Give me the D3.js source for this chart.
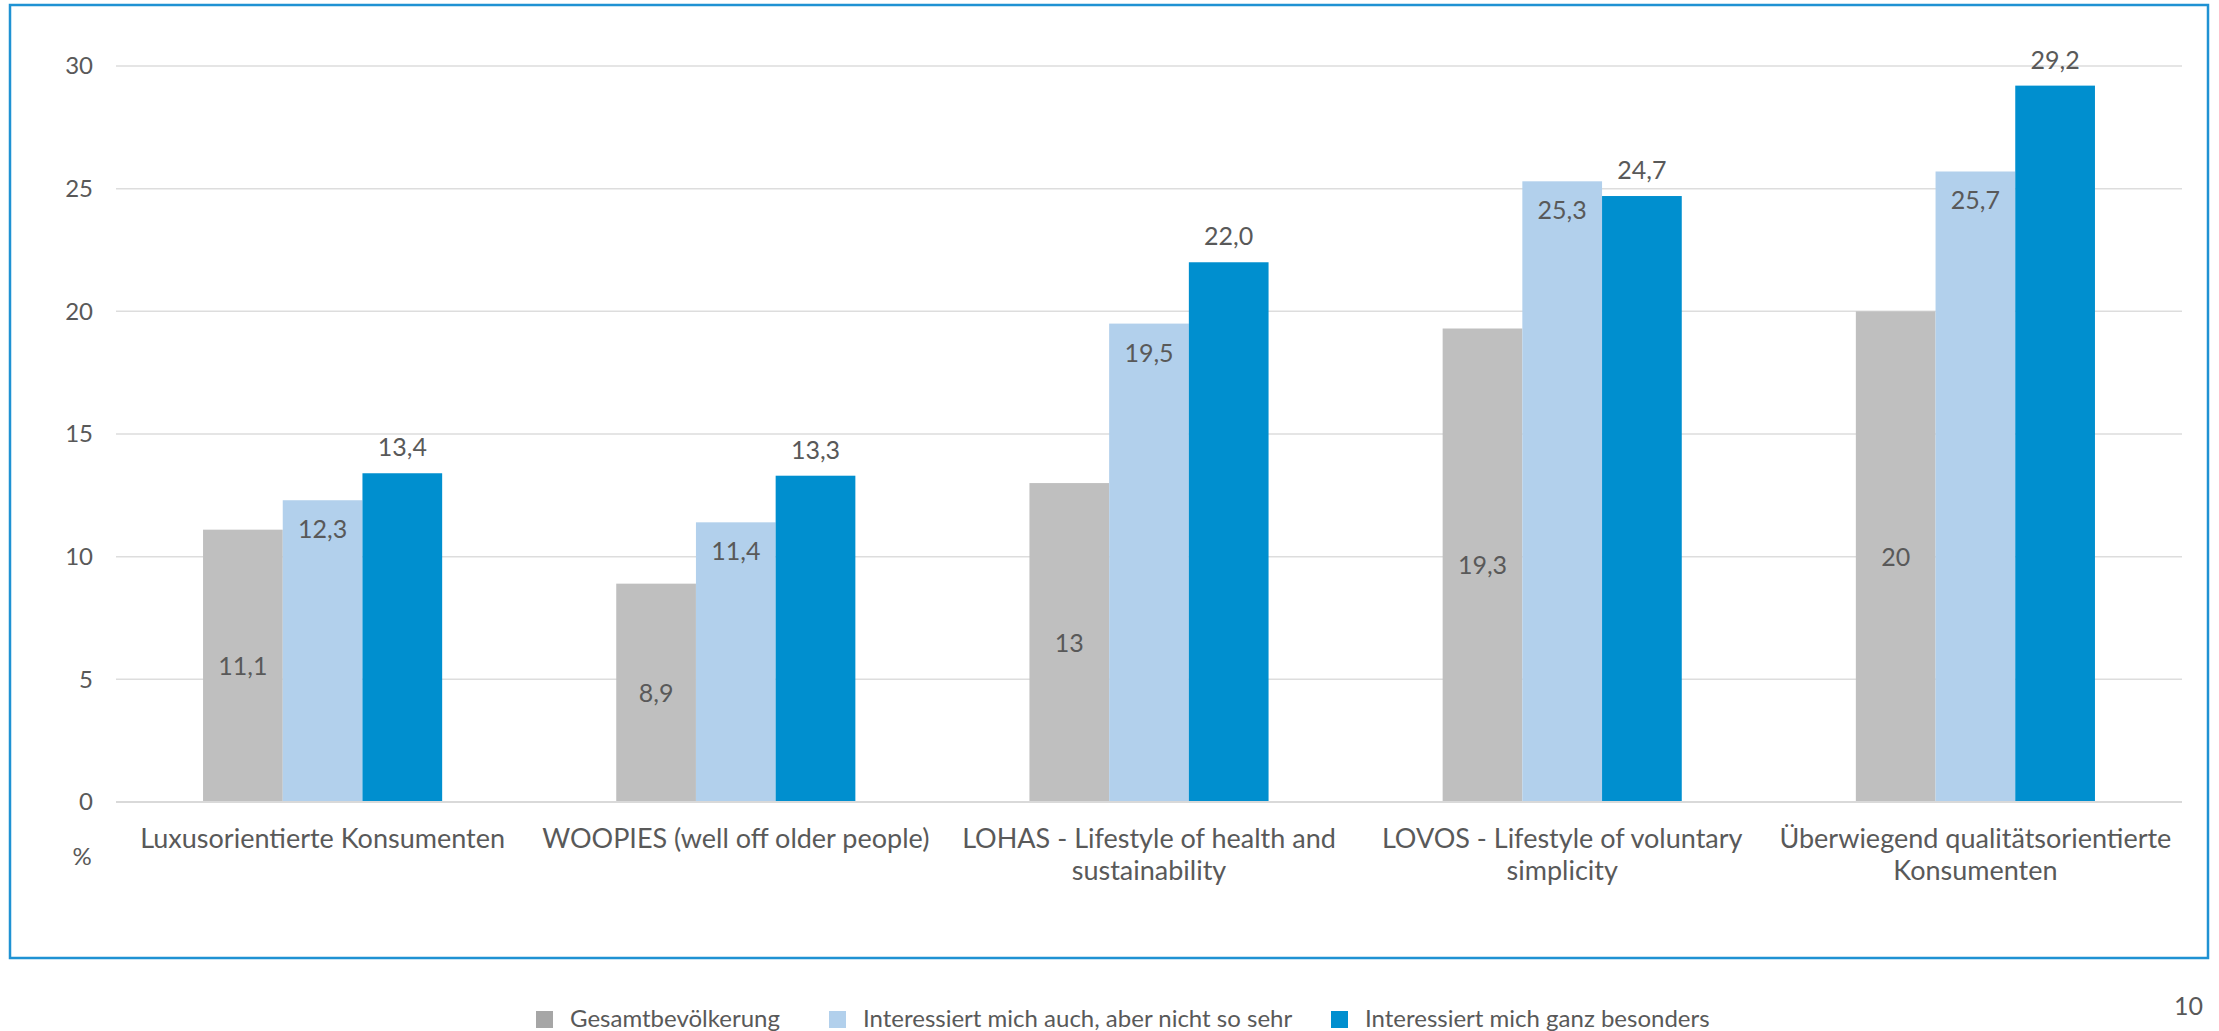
<!DOCTYPE html>
<html>
<head>
<meta charset="utf-8">
<script src="https://cdn.jsdelivr.net/npm/d3@7"></script>
<style>
  html, body { margin: 0; padding: 0; background: #fff; }
  svg { display: block; font-family: Lato, "Open Sans", sans-serif; }
</style>
</head>
<body>
<svg id="chart" width="2219" height="1031"></svg>
<script>
// Consumer segments (x categories), each wrapped into display lines
const categories = [
  "Luxusorientierte Konsumenten",
  "WOOPIES (well off older people)",
  "LOHAS - Lifestyle of health and sustainability",
  "LOVOS - Lifestyle of voluntary simplicity",
  "Überwiegend qualitätsorientierte Konsumenten"
];
const categoryLines = [
  ["Luxusorientierte Konsumenten"],
  ["WOOPIES (well off older people)"],
  ["LOHAS - Lifestyle of health and", "sustainability"],
  ["LOVOS - Lifestyle of voluntary", "simplicity"],
  ["Überwiegend qualitätsorientierte", "Konsumenten"]
];

// Series
const seriesNames = [
  "Gesamtbevölkerung",
  "Interessiert mich auch, aber nicht so sehr",
  "Interessiert mich ganz besonders"
];
const gesamt      = [11.1, 8.9, 13, 19.3, 20];
const auchNicht   = [12.3, 11.4, 19.5, 25.3, 25.7];
const besonders   = [13.4, 13.3, 22.0, 24.7, 29.2];

const yTicks = [0, 5, 10, 15, 20, 25, 30];
const pageNumber = "10";

const seriesValues = [gesamt, auchNicht, besonders];
const barColors = ["#BFBFBF", "#B2D0EC", "#008FCF"];
const legendColors = ["#A6A6A6", "#B2D0EC", "#008FCF"];
const textColor = "#595959";

// Label formats: total population keeps its own precision, the others always show one decimal
const fmtPlain = v => String(v).replace(".", ",");
const fmtOne = v => v.toFixed(1).replace(".", ",");
const labelFormats = [fmtPlain, fmtOne, fmtOne];

const svg = d3.select("#chart");

// Outer frame
svg.append("rect")
  .attr("x", 10).attr("y", 5)
  .attr("width", 2198).attr("height", 953)
  .attr("fill", "none")
  .attr("stroke", "#1F92D3")
  .attr("stroke-width", 2.5);

const plot = { left: 116, right: 2182, top: 66, bottom: 802 };

const x0 = d3.scaleBand()
  .domain(categories)
  .range([plot.left, plot.right])
  .padding(0);

const x1 = d3.scaleBand()
  .domain(d3.range(seriesNames.length))
  .range([0, x0.bandwidth()])
  .paddingInner(0)
  .paddingOuter(1.092);

const y = d3.scaleLinear()
  .domain([0, 30])
  .range([plot.bottom, plot.top]);

// Gridlines
svg.append("g")
  .selectAll("line")
  .data(yTicks.filter(t => t > 0))
  .join("line")
  .attr("x1", plot.left).attr("x2", plot.right)
  .attr("y1", d => y(d)).attr("y2", d => y(d))
  .attr("stroke", "#DDDDDD")
  .attr("stroke-width", 1.5);

// Y axis tick labels
const yAxis = d3.axisLeft(y)
  .tickValues(yTicks)
  .tickSize(0)
  .tickPadding(0)
  .tickFormat(d => String(d));
const yAxisG = svg.append("g")
  .attr("transform", `translate(93,0)`)
  .call(yAxis);
yAxisG.select(".domain").remove();
yAxisG.selectAll("text")
  .attr("font-size", 24)
  .attr("fill", textColor)
  .attr("font-family", "Lato, sans-serif");

// Bars
const groups = svg.append("g")
  .selectAll("g")
  .data(categories)
  .join("g")
  .attr("transform", d => `translate(${x0(d)},0)`);

groups.selectAll("rect")
  .data((d, i) => seriesValues.map((s, k) => ({ k, v: s[i] })))
  .join("rect")
  .attr("x", d => x1(d.k))
  .attr("width", x1.bandwidth())
  .attr("y", d => y(d.v))
  .attr("height", d => y(0) - y(d.v))
  .attr("fill", d => barColors[d.k]);

// Data labels: centred for series 0, inside end for series 1, outside end for series 2
groups.selectAll("text.val")
  .data((d, i) => seriesValues.map((s, k) => ({ k, v: s[i] })))
  .join("text")
  .attr("class", "val")
  .attr("x", d => x1(d.k) + x1.bandwidth() / 2)
  .attr("y", d => {
    if (d.k === 0) return (y(d.v) + y(0)) / 2;
    if (d.k === 1) return y(d.v) + 29;
    return y(d.v) - 26;
  })
  .attr("dy", "0.36em")
  .attr("text-anchor", "middle")
  .attr("font-size", 25)
  .attr("fill", textColor)
  .text(d => labelFormats[d.k](d.v));

// Baseline
svg.append("line")
  .attr("x1", plot.left).attr("x2", plot.right)
  .attr("y1", y(0)).attr("y2", y(0))
  .attr("stroke", "#D9D9D9")
  .attr("stroke-width", 2);

// Category labels
const catG = svg.append("g");
categories.forEach((c, i) => {
  const t = catG.append("text")
    .attr("x", x0(c) + x0.bandwidth() / 2)
    .attr("y", 838)
    .attr("text-anchor", "middle")
    .attr("font-size", 27)
    .attr("fill", textColor);
  categoryLines[i].forEach((line, j) => {
    t.append("tspan")
      .attr("x", x0(c) + x0.bandwidth() / 2)
      .attr("y", 838 + j * 32)
      .attr("dy", "0.36em")
      .text(line);
  });
});

// Unit label
svg.append("text")
  .attr("x", 82).attr("y", 856)
  .attr("dy", "0.36em")
  .attr("text-anchor", "middle")
  .attr("font-size", 24)
  .attr("fill", textColor)
  .text("%");

// Legend
const legendX = [536, 829, 1331];
const legend = svg.append("g");
seriesNames.forEach((name, i) => {
  legend.append("rect")
    .attr("x", legendX[i]).attr("y", 1011)
    .attr("width", 17).attr("height", 17)
    .attr("fill", legendColors[i]);
  legend.append("text")
    .attr("x", legendX[i] + 34).attr("y", 1027)
    .attr("font-size", 24)
    .attr("fill", textColor)
    .text(name);
});

// Page number
svg.append("text")
  .attr("x", 2203).attr("y", 1015)
  .attr("text-anchor", "end")
  .attr("font-size", 25)
  .attr("fill", textColor)
  .text(pageNumber);
</script>
</body>
</html>
